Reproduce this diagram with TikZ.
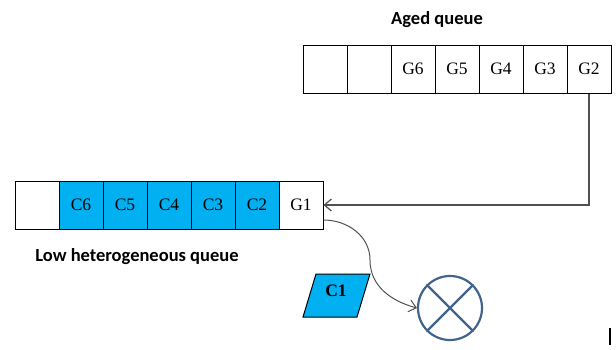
\documentclass[tikz,border=0pt]{standalone}
\usepackage{fontspec}
\setmainfont{Liberation Serif}
\newfontfamily\capfont{Carlito}
\usepackage{tikz}
\usetikzlibrary{arrows.meta,positioning,shapes.geometric,calc}
\usepackage{xcolor}
\definecolor{cellblue}{HTML}{00B0F0}
\definecolor{xorblue}{HTML}{41648C}
\definecolor{linegray}{HTML}{505050}

\begin{document}
\begin{tikzpicture}[
        x=1pt, y=-1pt,
        cell/.style={draw, line width=1pt, minimum width=44pt, minimum height=48pt, inner sep=0pt, font=\fontsize{17.5}{17.5}\selectfont},
        ccell/.style={cell, fill=cellblue},
        caption/.style={font=\capfont\bfseries\fontsize{18.5}{18.5}\selectfont},
        xorop/.style={circle, draw=xorblue, line width=2.2pt, minimum size=64pt, inner sep=0pt},
        packet/.style={draw, line width=1pt, fill=cellblue}
    ]
    \useasboundingbox (0,0) rectangle (616,349);

    % aged queue
    \node[caption] (agedlbl) at (437,20) {Aged queue};
    \node[cell] (ae1) at (325,69) {};
    \node[cell] (ae2) at (369,69) {};
    \node[cell] (ag6) at (413,69) {G6};
    \node[cell] (ag5) at (457,69) {G5};
    \node[cell] (ag4) at (501,69) {G4};
    \node[cell] (ag3) at (545,69) {G3};
    \node[cell] (ag2) at (589,69) {G2};

    % low heterogeneous queue
    \node[cell] (le1) at (37,205) {};
    \node[ccell] (lc6) at (81,205) {C6};
    \node[ccell] (lc5) at (125,205) {C5};
    \node[ccell] (lc4) at (169,205) {C4};
    \node[ccell] (lc3) at (213,205) {C3};
    \node[ccell] (lc2) at (257,205) {C2};
    \node[cell] (lg1) at (301,205) {G1};
    \node[caption] (lowlbl) at (137,257) {Low heterogeneous queue};

    % packet and operator
    \draw[packet] (316,274) -- (370,274) -- (357,317) -- (303,317) -- cycle;
    \node[font=\fontsize{17.5}{17.5}\selectfont\bfseries] (c1) at (336,291) {C1};
    \node[xorop] (xor) at (450,308) {};
    \draw[xorblue, line width=2.2pt] (xor.north west) -- (xor.south east);
    \draw[xorblue, line width=2.2pt] (xor.north east) -- (xor.south west);

    \coordinate (gout) at ($(lg1.east)+(0,15)$);
    \coordinate (bend) at (370,260);

    \draw[-{Straight Barb[length=7pt,width=12pt]}, linegray, line width=1.2pt] (ag2.south) |- (lg1.east);
    \draw[-{Straight Barb[length=7pt,width=12pt]}, linegray, line width=1pt] (gout) to[out=0,in=90] (bend) to[out=-90,in=165] (xor.west);

    \draw[line width=1.5pt] (610,328) -- (610,345);
    \end{tikzpicture}
\end{document}
